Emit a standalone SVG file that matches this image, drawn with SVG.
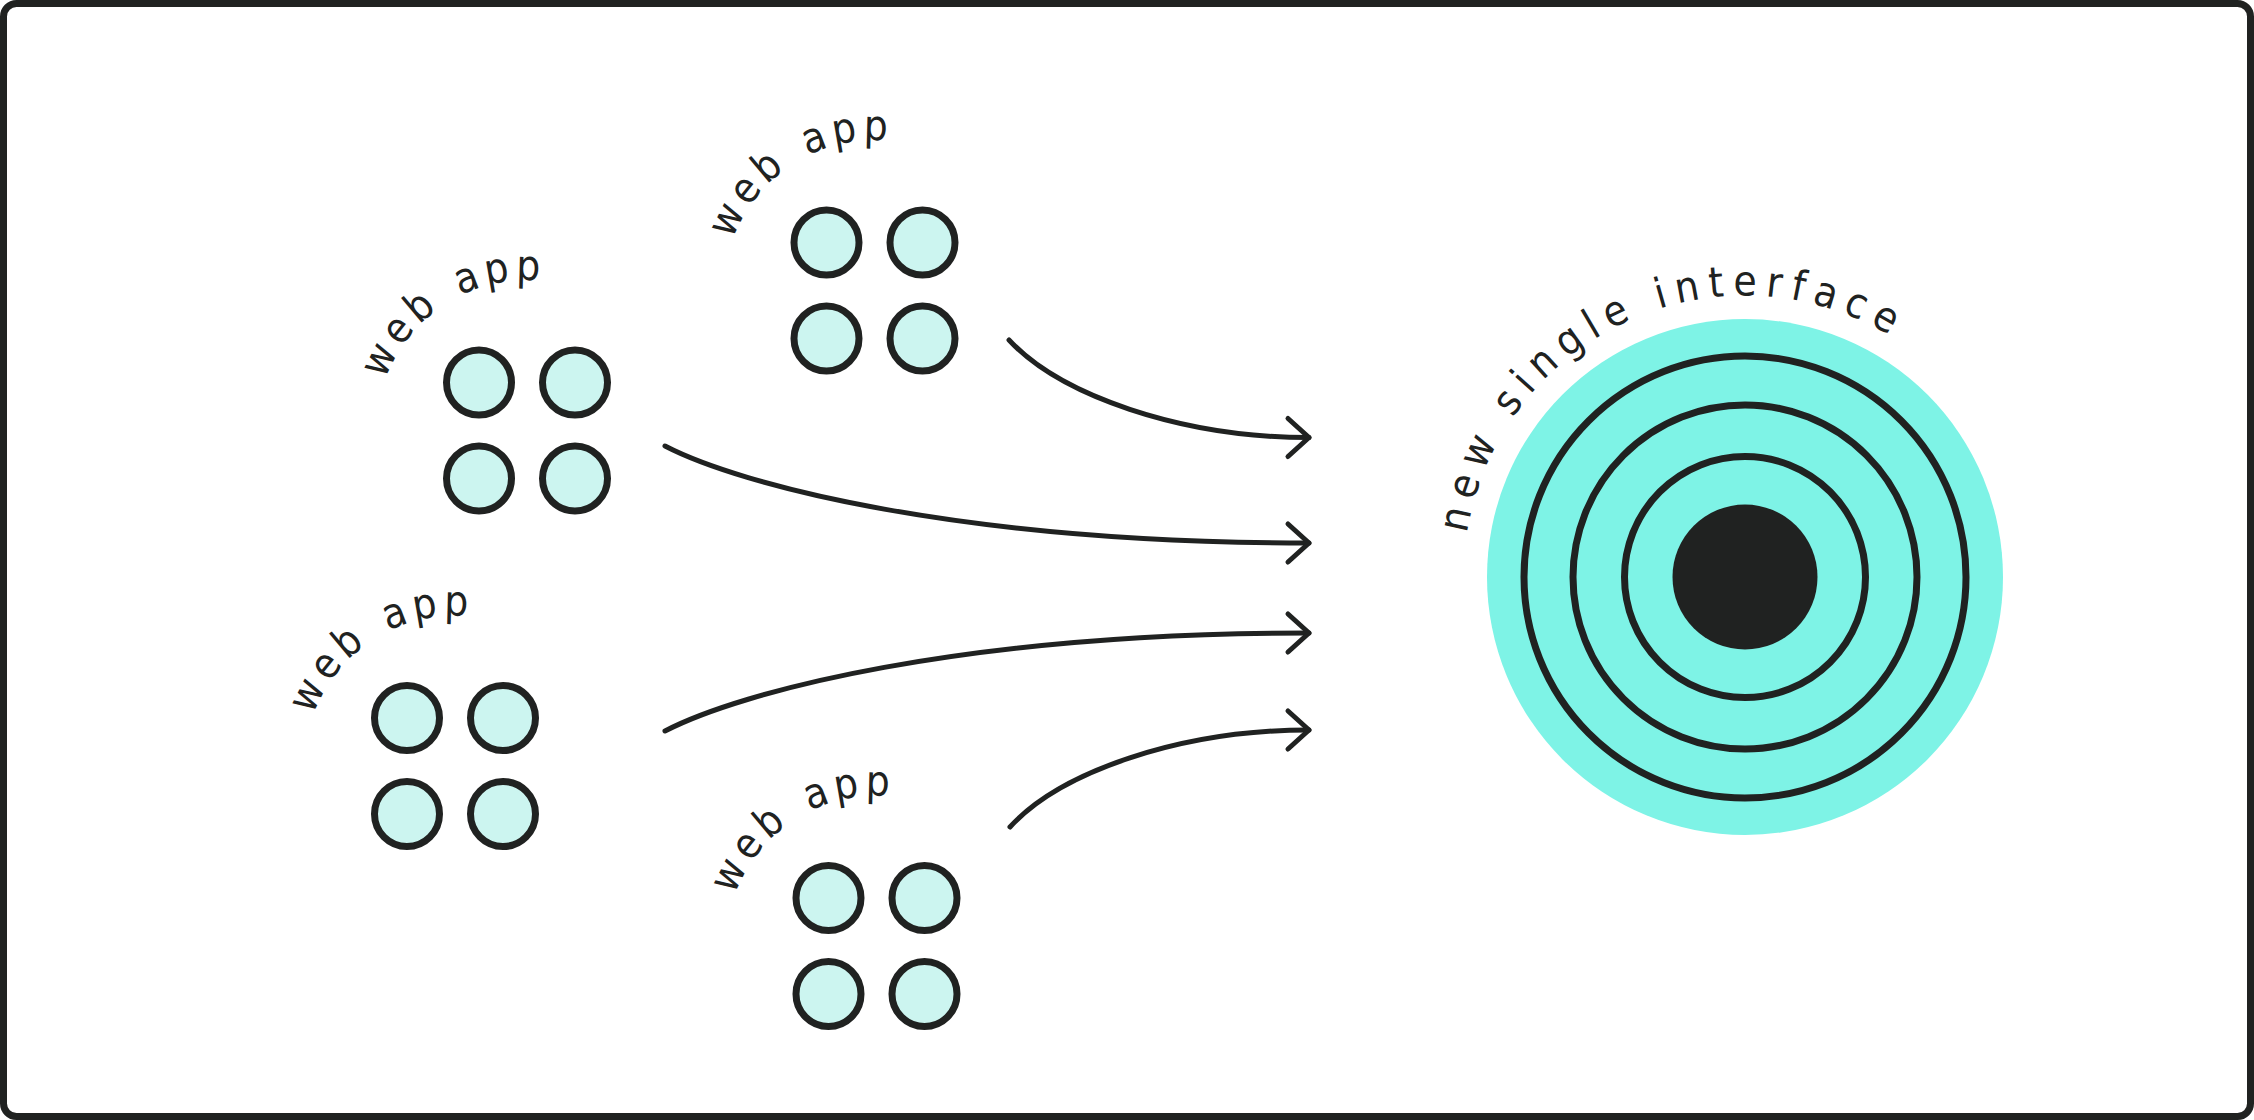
<svg xmlns="http://www.w3.org/2000/svg" xmlns:xlink="http://www.w3.org/1999/xlink" width="2254" height="1120" viewBox="0 0 2254 1120">
  <style>
    .frame { fill: #ffffff; stroke: #202221; stroke-width: 7; }
    .dot { fill: #ccf5f0; stroke: #202221; stroke-width: 7; }
    .ring { fill: none; stroke: #202221; stroke-width: 7; }
    .conn { fill: none; stroke: #202221; stroke-width: 5; stroke-linecap: round; }
    .lbl { font-family: "DejaVu Sans Condensed", "DejaVu Sans", sans-serif; font-stretch: condensed; font-size: 42px; fill: #202221; }
    .web { letter-spacing: 5.4px; word-spacing: 4px; }
    .big { letter-spacing: 8.8px; }
  </style>
  <defs>
    <path id="webArc" d="M -141.78 -50.49 A 150.5 150.5 0 0 1 75.25 -130.34"/>
    <path id="bigArc" d="M 1466.89 533.45 A 281.5 281.5 0 0 1 1960.64 396.05"/>
    <marker id="chev" markerUnits="userSpaceOnUse" markerWidth="40" markerHeight="50" viewBox="-30 -25 40 50" refX="0" refY="0" orient="auto">
      <path d="M -21 -19 L 0 0 L -21 19" fill="none" stroke="#202221" stroke-width="5" stroke-linecap="round" stroke-linejoin="round"/>
    </marker>
  </defs>

  <rect class="frame" x="3.5" y="3.5" width="2247" height="1113" rx="13" ry="13"/>

  <g id="webapp1" transform="translate(527 430.5)">
    <circle class="dot" cx="-48" cy="-48" r="32.5"/>
    <circle class="dot" cx="48" cy="-48" r="32.5"/>
    <circle class="dot" cx="-48" cy="48" r="32.5"/>
    <circle class="dot" cx="48" cy="48" r="32.5"/>
    <text class="lbl web"><textPath href="#webArc" xlink:href="#webArc">web app</textPath></text>
  </g>

  <g id="webapp2" transform="translate(874.5 290.5)">
    <circle class="dot" cx="-48" cy="-48" r="32.5"/>
    <circle class="dot" cx="48" cy="-48" r="32.5"/>
    <circle class="dot" cx="-48" cy="48" r="32.5"/>
    <circle class="dot" cx="48" cy="48" r="32.5"/>
    <text class="lbl web"><textPath href="#webArc" xlink:href="#webArc">web app</textPath></text>
  </g>

  <g id="webapp3" transform="translate(455 766)">
    <circle class="dot" cx="-48" cy="-48" r="32.5"/>
    <circle class="dot" cx="48" cy="-48" r="32.5"/>
    <circle class="dot" cx="-48" cy="48" r="32.5"/>
    <circle class="dot" cx="48" cy="48" r="32.5"/>
    <text class="lbl web"><textPath href="#webArc" xlink:href="#webArc">web app</textPath></text>
  </g>

  <g id="webapp4" transform="translate(876.5 946)">
    <circle class="dot" cx="-48" cy="-48" r="32.5"/>
    <circle class="dot" cx="48" cy="-48" r="32.5"/>
    <circle class="dot" cx="-48" cy="48" r="32.5"/>
    <circle class="dot" cx="48" cy="48" r="32.5"/>
    <text class="lbl web"><textPath href="#webArc" xlink:href="#webArc">web app</textPath></text>
  </g>

  <g id="interface">
    <circle cx="1745" cy="577" r="258" fill="#7ef3e6"/>
    <circle class="ring" cx="1745" cy="577" r="221"/>
    <circle class="ring" cx="1745" cy="577" r="172"/>
    <circle class="ring" cx="1745" cy="577" r="120.5"/>
    <circle cx="1745" cy="577" r="72.5" fill="#202221"/>
    <text class="lbl big"><textPath href="#bigArc" xlink:href="#bigArc">new single interface</textPath></text>
  </g>

  <g id="connectors">
    <path class="conn" marker-end="url(#chev)" d="M 1009 340 C 1060 395 1180 437.5 1309 437.5"/>
    <path class="conn" marker-end="url(#chev)" d="M 665 446 C 740 485 960 543 1309 543"/>
    <path class="conn" marker-end="url(#chev)" d="M 665 731 C 740 692 960 633 1309 633"/>
    <path class="conn" marker-end="url(#chev)" d="M 1010 827 C 1060 772 1180 730 1309 730"/>
  </g>
</svg>
